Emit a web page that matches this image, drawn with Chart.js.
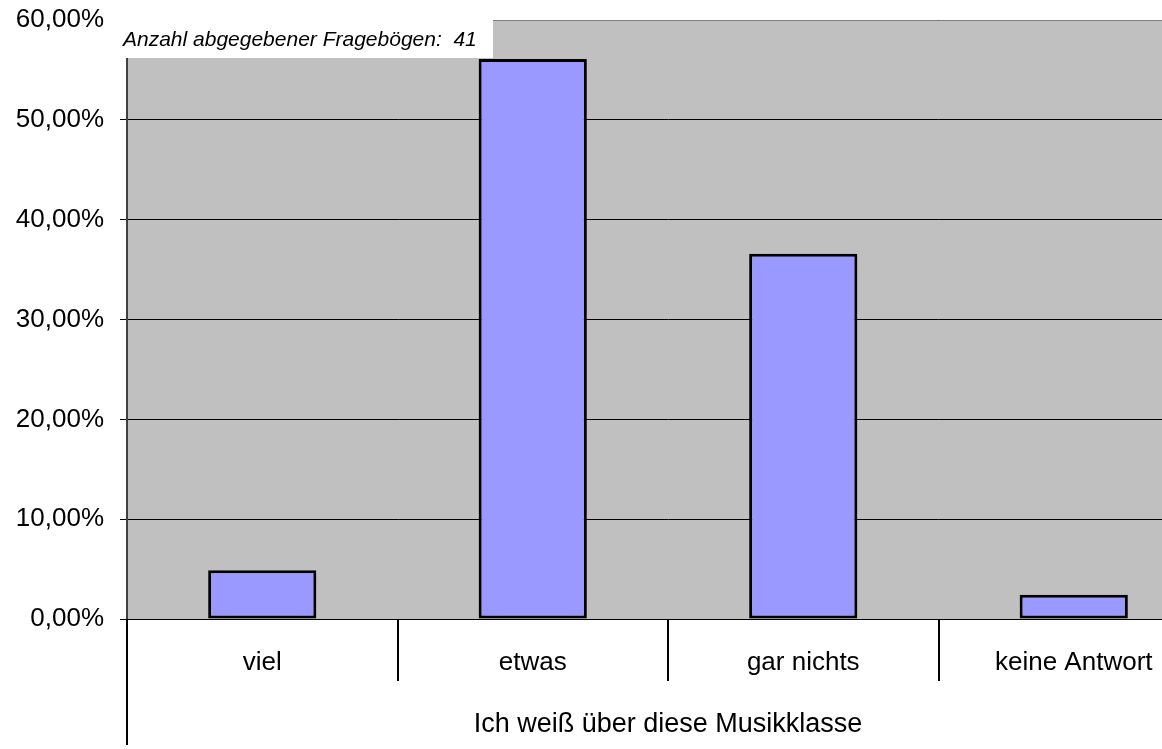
<!DOCTYPE html>
<html>
<head>
<meta charset="utf-8">
<script src="https://cdn.jsdelivr.net/npm/chart.js@4/dist/chart.umd.min.js"></script>
<style>
html,body{margin:0;padding:0;background:#fff;overflow:hidden;width:1162px;height:749px;}
#wrap{position:absolute;left:0;top:0;width:1210px;height:749px;}
</style>
</head>
<body>
<div id="wrap"><canvas id="c" width="1210" height="749"></canvas></div>
<script>
const categories = ["viel", "etwas", "gar nichts", "keine Antwort"];
const shares = [0.0488, 0.5610, 0.3659, 0.0244];
const yTicks = [0, 0.1, 0.2, 0.3, 0.4, 0.5, 0.6];
const axisTitle = "Ich weiß über diese Musikklasse";
const note = "Anzahl abgegebener Fragebögen:  41";

const FONT = "'Liberation Sans', Arial, sans-serif";

const decor = {
  id: 'decor',
  beforeDatasetsDraw(chart) {
    const {ctx, chartArea: a} = chart;
    ctx.save();
    ctx.strokeStyle = '#808080';
    ctx.lineWidth = 1;
    ctx.beginPath();
    ctx.moveTo(a.left, a.top + 0.5);
    ctx.lineTo(a.right, a.top + 0.5);
    ctx.stroke();
    ctx.restore();
  },
  beforeDraw(chart) {
    const {ctx, chartArea: a} = chart;
    ctx.save();
    ctx.fillStyle = '#C0C0C0';
    ctx.fillRect(a.left, a.top, a.right - a.left, a.bottom - a.top);
    ctx.restore();
  },
  afterDraw(chart) {
    const {ctx, chartArea: a} = chart;
    const xs = chart.scales.x;
    ctx.save();
    ctx.strokeStyle = '#000';
    ctx.lineWidth = 2;
    for (let i = 1; i < categories.length; i++) {
      const px = Math.round((xs.getPixelForValue(i - 1) + xs.getPixelForValue(i)) / 2);
      ctx.beginPath();
      ctx.moveTo(px, a.bottom);
      ctx.lineTo(px, a.bottom + 62);
      ctx.stroke();
    }
    ctx.beginPath();
    ctx.moveTo(a.left, a.bottom);
    ctx.lineTo(a.left, 745);
    ctx.stroke();
    ctx.fillStyle = '#fff';
    ctx.fillRect(118, a.top - 1, 375, 39);
    ctx.fillStyle = '#000';
    ctx.font = "italic 21px " + FONT;
    ctx.textBaseline = 'middle';
    ctx.textAlign = 'left';
    ctx.fillText(note, 123, a.top + 20);
    ctx.restore();
  }
};

new Chart(document.getElementById('c'), {
  type: 'bar',
  data: {
    labels: categories,
    datasets: [{
      data: shares,
      backgroundColor: '#9999FF',
      borderColor: '#000',
      borderWidth: 3,
      borderSkipped: false,
      barPercentage: 0.4,
      categoryPercentage: 1.0
    }]
  },
  options: {
    responsive: false,
    animation: false,
    layout: {padding: {top: 20, left: 0, right: 1, bottom: 0}},
    plugins: {legend: {display: false}, tooltip: {enabled: false}},
    scales: {
      x: {
        grid: {display: true, drawOnChartArea: false, drawTicks: false, color: '#000'},
        border: {display: true, color: '#000', width: 1},
        ticks: {color: '#000', font: {family: FONT, size: 26}, padding: 28, maxRotation: 0, autoSkip: false},
        title: {display: true, text: axisTitle, color: '#000', font: {family: FONT, size: 27}, padding: {top: 0, bottom: 8}},
        afterFit(s) { s.height = 130; s.paddingLeft = 0; s.paddingRight = 0; }
      },
      y: {
        min: 0, max: 0.6,
        afterBuildTicks(s) { s.ticks = yTicks.map(v => ({value: v})); },
        grid: {color: '#000', lineWidth: 1, tickLength: 7, drawTicks: true},
        border: {display: true, color: '#404040', width: 2},
        ticks: {
          color: '#000', font: {family: FONT, size: 26}, padding: 16,
          callback: v => (v * 100).toFixed(2).replace('.', ',') + '%'
        },
        afterFit(s) { s.width = 127; s.paddingTop = 0; s.paddingBottom = 0; }
      }
    }
  },
  plugins: [decor]
});
</script>
</body>
</html>
